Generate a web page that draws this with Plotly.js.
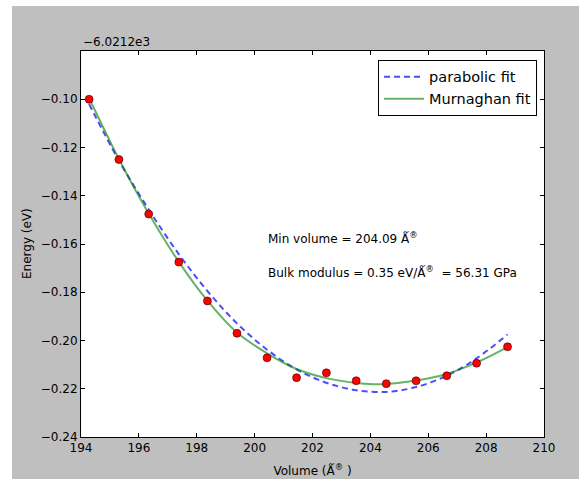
<!DOCTYPE html>
<html>
<head>
<meta charset="utf-8">
<script src="https://cdn.plot.ly/plotly-3.0.1.min.js"></script>
<style>
html,body{margin:0;padding:0;background:#fff;}
#chart{width:579px;height:479px;}
</style>
</head>
<body>
<div id="chart"></div>
<script>
// Energies are shown relative to the offset -6.0212e3 eV
var offsetLabel = "\u22126.0212e3";

// Measured points
var volume = [194.28, 195.31, 196.34, 197.38, 198.37, 199.39, 200.43, 201.45, 202.48, 203.51, 204.55, 205.58, 206.64, 207.67, 208.74];
var energy = [-0.1000, -0.1250, -0.1476, -0.1675, -0.1836, -0.1970, -0.2072, -0.2154, -0.2134, -0.2167, -0.2179, -0.2167, -0.2146, -0.2094, -0.2026];

// Parabolic fit
var paraX = [194.28, 195.31, 196.34, 197.38, 198.37, 199.39, 200.43, 201.45, 202.48, 203.51, 204.55, 205.58, 206.64, 207.67, 208.74];
var paraY = [-0.1020, -0.1254, -0.1457, -0.1642, -0.1795, -0.1929, -0.2038, -0.2120, -0.2175, -0.2206, -0.2213, -0.2193, -0.2146, -0.2074, -0.1975];

// Murnaghan fit
var murnX = [194.28, 195.31, 196.34, 197.38, 198.37, 199.39, 200.43, 201.45, 202.48, 203.51, 204.09, 204.55, 205.58, 206.64, 207.67, 208.74];
var murnY = [-0.0995, -0.1248, -0.1474, -0.1674, -0.1835, -0.1967, -0.2053, -0.2118, -0.2156, -0.2176, -0.2181, -0.2180, -0.2166, -0.2139, -0.2091, -0.2027];

var xTicks = [194, 196, 198, 200, 202, 204, 206, 208, 210];
var yTicks = [-0.24, -0.22, -0.20, -0.18, -0.16, -0.14, -0.12, -0.10];

var minVolumeText = "Min volume = 204.09 \u01FA<sup>\u00AE</sup>";
var bulkText = "Bulk modulus = 0.35 eV/\u01FA<sup>\u00AE</sup>  = 56.31 GPa";
var yTitle = "Energy (eV)";

var font = "DejaVu Sans, sans-serif";

var traces = [
  {
    x: paraX, y: paraY, mode: "lines", name: "parabolic fit",
    line: {color: "rgba(0,0,255,0.7)", width: 2, dash: "6px,4px", shape: "spline"}
  },
  {
    x: murnX, y: murnY, mode: "lines", name: "Murnaghan fit",
    line: {color: "rgba(0,128,0,0.6)", width: 2, shape: "spline"}
  },
  {
    x: volume, y: energy, mode: "markers", name: "data", showlegend: false,
    marker: {color: "#ff0000", size: 8, line: {color: "rgba(60,0,0,0.6)", width: 1}}
  }
];

var layout = {
  width: 579, height: 479,
  margin: {l: 81, r: 35, t: 51, b: 42},
  paper_bgcolor: "#ffffff",
  plot_bgcolor: "rgba(0,0,0,0)",
  font: {family: font, size: 12, color: "#000"},
  showlegend: true,
  legend: {
    x: 0.985, y: 0.977, xanchor: "right", yanchor: "top",
    bgcolor: "#ffffff", bordercolor: "#000", borderwidth: 1,
    font: {family: font, size: 14.5, color: "#000"},
    itemwidth: 40,
    tracegroupgap: 0
  },
  xaxis: {
    range: [194, 210], tickvals: xTicks, ticktext: xTicks.map(String),
    ticks: "inside", ticklen: 4, tickcolor: "#000", mirror: "allticks",
    showline: true, linecolor: "#000", linewidth: 1, showgrid: false, zeroline: false,
    tickfont: {size: 12},
    title: {text: "Volume (\u01FA<sup>\u00AE</sup> )", font: {size: 12}, standoff: 12}
  },
  yaxis: {
    range: [-0.24, -0.08], tickvals: yTicks, tickformat: ".2f",
    ticks: "inside", ticklen: 4, tickcolor: "#000", mirror: "allticks",
    showline: true, linecolor: "#000", linewidth: 1, showgrid: false, zeroline: false,
    tickfont: {size: 12}
  },
  shapes: [
    {type: "rect", xref: "paper", yref: "paper", x0: -0.149, x1: 1.2, y0: -0.2, y1: 1.1166,
     fillcolor: "#bfbfbf", line: {width: 0}, layer: "below"},
    {type: "rect", xref: "paper", yref: "paper", x0: 0, x1: 1, y0: 0, y1: 1,
     fillcolor: "#ffffff", line: {width: 0}, layer: "below"}
  ],
  annotations: [
    {text: offsetLabel, xref: "paper", yref: "paper", x: 0, y: 1, xanchor: "left", yanchor: "bottom",
     showarrow: false, font: {size: 12}, yshift: 0},
    {text: yTitle, xref: "paper", yref: "paper", x: -0.1166, y: 0.5, xanchor: "center", yanchor: "middle",
     textangle: -90, showarrow: false, font: {size: 12}},
    {text: minVolumeText, xref: "x", yref: "y", x: 200.39, y: -0.1575, xanchor: "left", yanchor: "middle",
     showarrow: false, font: {size: 12}},
    {text: bulkText, xref: "x", yref: "y", x: 200.39, y: -0.1716, xanchor: "left", yanchor: "middle",
     showarrow: false, font: {size: 12}}
  ]
};

Plotly.newPlot("chart", traces, layout, {staticPlot: true, displayModeBar: false});
</script>
</body>
</html>
